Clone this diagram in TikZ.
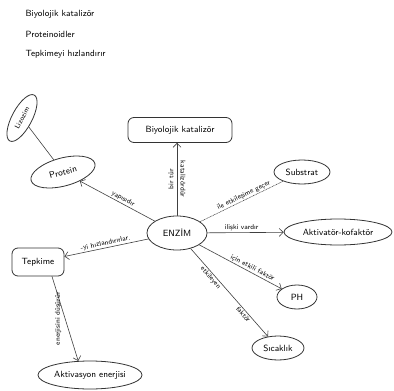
\documentclass[tikz,border=0pt]{standalone}
\usepackage{tikz}
\usetikzlibrary{positioning,shapes.geometric,arrows.meta}

\begin{document}
\begin{tikzpicture}[x=1pt, y=1pt, line cap=round, font=\sffamily\small]
  \tikzset{kavram/.style={draw=black!80, thick, ellipse, inner sep=1pt},
           kutu/.style={draw=black!80, thick, rounded corners=6pt, inner sep=3pt},
           bag/.style={draw=black!75, semithick, -{Straight Barb[length=4pt]}},
           etiket/.style={font=\sffamily\scriptsize, sloped, above, inner sep=1pt}}
  \useasboundingbox (0,0) rectangle (394,-391);
  % basliklar
  \node[anchor=west] (b1) at (22,-14) {Biyolojik katalizör};
  \node[anchor=west] (b2) at (22,-34) {Proteinoidler};
  \node[anchor=west] (b3) at (22,-54) {Tepkimeyi hızlandırır};
  % kavramlar
  \node[kavram, minimum width=60pt, minimum height=34pt] (enzim) at (177,-233) {ENZİM};
  \node[kutu, minimum width=104pt, minimum height=25pt] (katalizor) at (180,-130) {Biyolojik katalizör};
  \node[kavram, rotate=15, minimum width=66pt, minimum height=28pt] (protein) at (63,-172) {Protein};
  \node[kavram, rotate=62, minimum width=52pt, minimum height=20pt, font=\sffamily\scriptsize] (lizozim) at (22,-118) {Lizozim};
  \node[kavram, minimum width=56pt, minimum height=24pt] (substrat) at (302,-172) {Substrat};
  \node[kavram, minimum width=108pt, minimum height=26pt] (aktivator) at (338,-232) {Aktivatör-kofaktör};
  \node[kavram, minimum width=40pt, minimum height=24pt] (ph) at (297,-297) {PH};
  \node[kavram, minimum width=52pt, minimum height=24pt] (sicaklik) at (278,-348) {Sıcaklık};
  \node[kutu, minimum width=52pt, minimum height=28pt] (tepkime) at (38,-262) {Tepkime};
  \node[kavram, minimum width=96pt, minimum height=28pt] (aktivasyon) at (90,-375) {Aktivasyon enerjisi};
  % baglar
  \draw[bag] (enzim.north) -- (katalizor.south -| enzim.north)
    node[pos=0.5, rotate=90, anchor=south, font=\sffamily\scriptsize] {bir tür}
    node[pos=0.5, rotate=-90, anchor=south, font=\sffamily\scriptsize] {katalizördür};
  \draw[bag] (enzim) -- (protein) node[pos=0.45, etiket] {yapısıdır};
  \draw[draw=black!75, semithick] (protein) -- (lizozim);
  \draw[draw=black!75, semithick, densely dotted] (enzim) -- (substrat)
    node[pos=0.55, etiket] {ile etkileşime geçer};
  \draw[bag] (enzim) -- (aktivator) node[pos=0.45, etiket] {ilişki vardır};
  \draw[bag] (enzim) -- (ph) node[pos=0.62, etiket] {için etkili faktör};
  \draw[bag] (enzim) -- (sicaklik)
    node[pos=0.3, etiket, below] {etkileyen} node[pos=0.72, etiket, below] {faktör};
  \draw[bag] (enzim) -- (tepkime) node[pos=0.5, etiket] {-yi hızlandırırlar.};
  \draw[bag] ([xshift=14pt]tepkime.south) -- (aktivasyon.130)
    node[pos=0.5, rotate=90, anchor=south, font=\sffamily\scriptsize] {enerjisini düşürür};
\end{tikzpicture}
\end{document}
